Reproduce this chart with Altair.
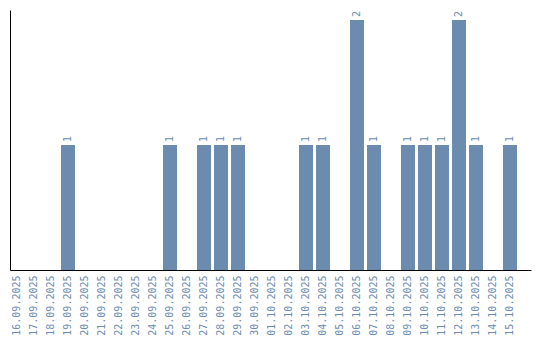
import altair as alt
import pandas as pd

dates = ["16.09.2025","17.09.2025","18.09.2025","19.09.2025","20.09.2025","21.09.2025",
         "22.09.2025","23.09.2025","24.09.2025","25.09.2025","26.09.2025","27.09.2025",
         "28.09.2025","29.09.2025","30.09.2025","01.10.2025","02.10.2025","03.10.2025",
         "04.10.2025","05.10.2025","06.10.2025","07.10.2025","08.10.2025","09.10.2025",
         "10.10.2025","11.10.2025","12.10.2025","13.10.2025","14.10.2025","15.10.2025"]
counts = [0,0,0,1,0,0,0,0,0,1,0,1,1,1,0,0,0,1,1,0,2,1,0,1,1,1,2,1,0,1]

df = pd.DataFrame({"date": dates, "count": counts})
color = "#6b8cae"

x = alt.X("date:N", sort=dates, title=None,
          scale=alt.Scale(paddingInner=3/17, paddingOuter=0.4118, align=0),
          axis=alt.Axis(labelAngle=270, labelColor=color, labelFont="DejaVu Sans Mono",
                        labelFontSize=10, ticks=False, domainColor="black",
                        labelPadding=5, labelAlign="right", labelBaseline="middle"))
y = alt.Y("count:Q", title=None, scale=alt.Scale(domain=[0, 2.08], nice=False),
          axis=alt.Axis(labels=False, ticks=False, grid=False, domainColor="black"))

bars = alt.Chart(df).mark_bar(color=color).encode(x=x, y=y)
text = alt.Chart(df).transform_filter("datum.count > 0").mark_text(
    angle=270, align="left", baseline="middle", dx=3, color=color,
    font="DejaVu Sans Mono", fontSize=10).encode(
    x=alt.X("date:N", sort=dates), y="count:Q", text="count:Q")

chart = (bars + text).properties(
    width=521, height=260,
    autosize=alt.AutoSizeParams(type="none"),
    padding={"left": 10, "top": 10, "right": 9, "bottom": 70},
).configure_view(stroke=None)

chart.save("out.html", embed_options={"renderer": "svg", "actions": False})
